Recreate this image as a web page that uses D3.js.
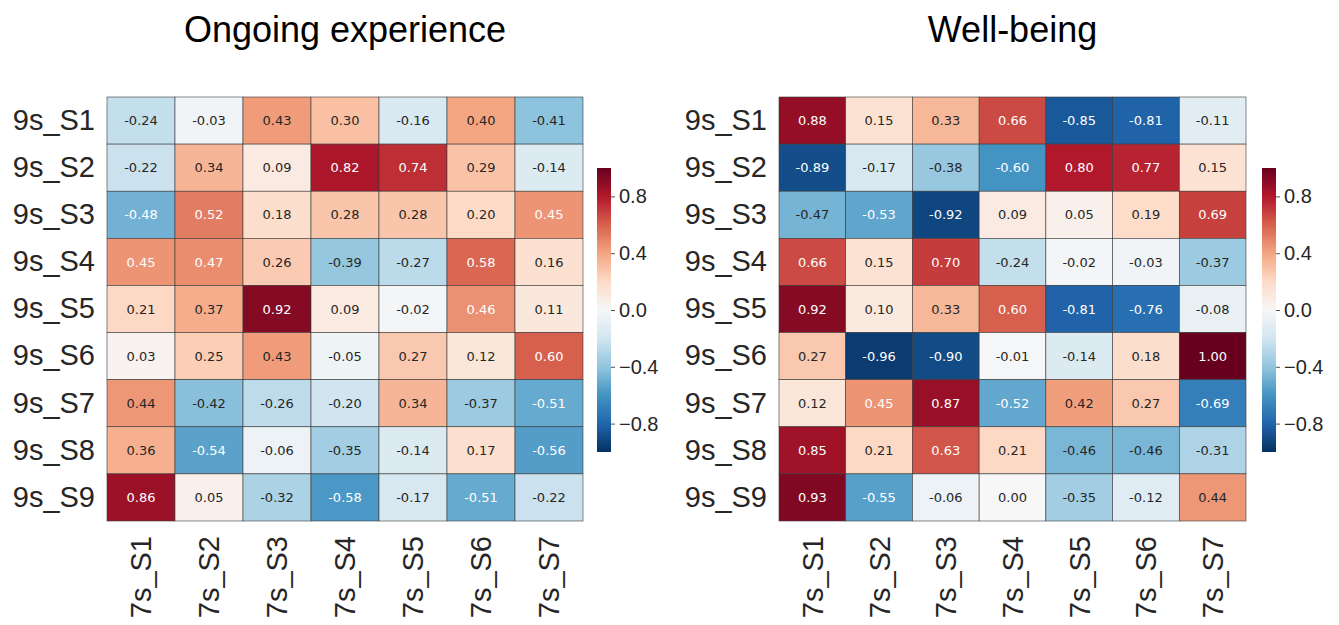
<!DOCTYPE html>
<html>
<head>
<meta charset="utf-8">
<script src="https://cdn.jsdelivr.net/npm/d3@7"></script>
<style>
  html, body { margin: 0; padding: 0; background: #fff; }
  svg { display: block; }
</style>
</head>
<body>
<svg id="chart" width="1339" height="625"></svg>
<script>
// Row and column labels
const rowLabels = ["9s_S1", "9s_S2", "9s_S3", "9s_S4", "9s_S5", "9s_S6", "9s_S7", "9s_S8", "9s_S9"];
const colLabels = ["7s_S1", "7s_S2", "7s_S3", "7s_S4", "7s_S5", "7s_S6", "7s_S7"];

// Correlations: Ongoing experience
const ongoing = [
  [-0.24, -0.03, 0.43, 0.30, -0.16, 0.40, -0.41],
  [-0.22, 0.34, 0.09, 0.82, 0.74, 0.29, -0.14],
  [-0.48, 0.52, 0.18, 0.28, 0.28, 0.20, 0.45],
  [0.45, 0.47, 0.26, -0.39, -0.27, 0.58, 0.16],
  [0.21, 0.37, 0.92, 0.09, -0.02, 0.46, 0.11],
  [0.03, 0.25, 0.43, -0.05, 0.27, 0.12, 0.60],
  [0.44, -0.42, -0.26, -0.20, 0.34, -0.37, -0.51],
  [0.36, -0.54, -0.06, -0.35, -0.14, 0.17, -0.56],
  [0.86, 0.05, -0.32, -0.58, -0.17, -0.51, -0.22]
];

// Correlations: Well-being
const wellbeing = [
  [0.88, 0.15, 0.33, 0.66, -0.85, -0.81, -0.11],
  [-0.89, -0.17, -0.38, -0.60, 0.80, 0.77, 0.15],
  [-0.47, -0.53, -0.92, 0.09, 0.05, 0.19, 0.69],
  [0.66, 0.15, 0.70, -0.24, -0.02, -0.03, -0.37],
  [0.92, 0.10, 0.33, 0.60, -0.81, -0.76, -0.08],
  [0.27, -0.96, -0.90, -0.01, -0.14, 0.18, 1.00],
  [0.12, 0.45, 0.87, -0.52, 0.42, 0.27, -0.69],
  [0.85, 0.21, 0.63, 0.21, -0.46, -0.46, -0.31],
  [0.93, -0.55, -0.06, 0.00, -0.35, -0.12, 0.44]
];

const colorbarTicks = [-0.8, -0.4, 0, 0.4, 0.8];

// Diverging red-blue palette (low = blue, high = red), linear between anchors
const rdbu = ["#053061", "#2166ac", "#4393c3", "#92c5de", "#d1e5f0", "#f7f7f7",
              "#fddbc7", "#f4a582", "#d6604d", "#b2182b", "#67001f"];
const color = d3.scaleLinear()
  .domain(d3.range(rdbu.length).map(i => -1 + 2 * i / (rdbu.length - 1)))
  .range(rdbu)
  .interpolate(d3.interpolateRgb)
  .clamp(true);

function luminance(c) {
  const rgb = d3.rgb(c);
  const lin = v => { v /= 255; return v <= 0.03928 ? v / 12.92 : Math.pow((v + 0.055) / 1.055, 2.4); };
  return 0.2126 * lin(rgb.r) + 0.7152 * lin(rgb.g) + 0.0722 * lin(rgb.b);
}

const svg = d3.select("#chart");
// cell annotations use a plain hyphen for negatives
const fmt = v => d3.format(".2f")(v).replace("\u2212", "-");
const tickFmt = v => d3.format(".1f")(v).replace("-", "\u2212");

// Gradient shared by both colorbars
const defs = svg.append("defs");
const grad = defs.append("linearGradient").attr("id", "cbar")
  .attr("x1", 0).attr("y1", 1).attr("x2", 0).attr("y2", 0);
d3.range(0, 1.0001, 0.02).forEach(t => {
  grad.append("stop").attr("offset", t).attr("stop-color", color(-1 + 2 * t));
});

function heatmap(cfg) {
  const g = svg.append("g");
  const x = d3.scaleBand().domain(colLabels).range([cfg.left, cfg.right]);
  const y = d3.scaleBand().domain(rowLabels).range([cfg.top, cfg.bottom]);

  const cells = [];
  cfg.data.forEach((row, i) => row.forEach((v, j) => cells.push({ r: rowLabels[i], c: colLabels[j], v })));

  g.selectAll("rect.cell").data(cells).join("rect")
    .attr("class", "cell")
    .attr("x", d => x(d.c)).attr("y", d => y(d.r))
    .attr("width", x.bandwidth()).attr("height", y.bandwidth())
    .attr("fill", d => color(d.v))
    .attr("stroke", "#3a3a3a").attr("stroke-width", 0.6);

  g.selectAll("text.val").data(cells).join("text")
    .attr("class", "val")
    .attr("x", d => x(d.c) + x.bandwidth() / 2)
    .attr("y", d => y(d.r) + y.bandwidth() / 2)
    .attr("dy", "0.36em")
    .attr("text-anchor", "middle")
    .attr("font-family", "DejaVu Sans")
    .attr("font-size", 13)
    .attr("fill", d => luminance(color(d.v)) < 0.408 ? "#ffffff" : "#262626")
    .text(d => fmt(d.v));

  // Row labels
  const yAxis = g.append("g")
    .attr("transform", `translate(${cfg.left},0)`)
    .call(d3.axisLeft(y).tickSize(0).tickPadding(12));
  yAxis.select(".domain").remove();
  yAxis.selectAll("text")
    .attr("font-family", "Liberation Sans").attr("font-size", 29).attr("fill", "#262626");

  // Column labels, rotated
  const xAxis = g.append("g")
    .attr("transform", `translate(0,${cfg.bottom})`)
    .call(d3.axisBottom(x).tickSize(0));
  xAxis.select(".domain").remove();
  xAxis.selectAll("text")
    .attr("font-family", "Liberation Sans").attr("font-size", 29).attr("fill", "#262626")
    .attr("text-anchor", "end")
    .attr("transform", "rotate(-90)")
    .attr("x", -15).attr("y", 0).attr("dy", "0.36em");

  // Title
  svg.append("text")
    .attr("x", (cfg.left + cfg.right) / 2).attr("y", 42)
    .attr("text-anchor", "middle")
    .attr("font-family", "Liberation Sans").attr("font-size", 36).attr("fill", "#000")
    .text(cfg.title);

  // Colorbar
  const cy = d3.scaleLinear().domain([-1, 1]).range([452, 168]);
  svg.append("rect")
    .attr("x", cfg.cbx).attr("y", cy(1))
    .attr("width", 14).attr("height", cy(-1) - cy(1))
    .attr("fill", "url(#cbar)");
  const cAxis = svg.append("g")
    .attr("transform", `translate(${cfg.cbx + 14},0)`)
    .call(d3.axisRight(cy).tickValues(colorbarTicks).tickFormat(tickFmt).tickSize(4).tickPadding(4));
  cAxis.select(".domain").remove();
  cAxis.selectAll("line").attr("stroke", "#262626").attr("stroke-width", 0.8);
  cAxis.selectAll("text")
    .attr("font-family", "Liberation Sans").attr("font-size", 20).attr("fill", "#262626");
}

heatmap({ data: ongoing, title: "Ongoing experience", left: 107, right: 583, top: 97, bottom: 521, cbx: 597 });
heatmap({ data: wellbeing, title: "Well-being", left: 779, right: 1246, top: 97, bottom: 521, cbx: 1262 });
</script>
</body>
</html>
